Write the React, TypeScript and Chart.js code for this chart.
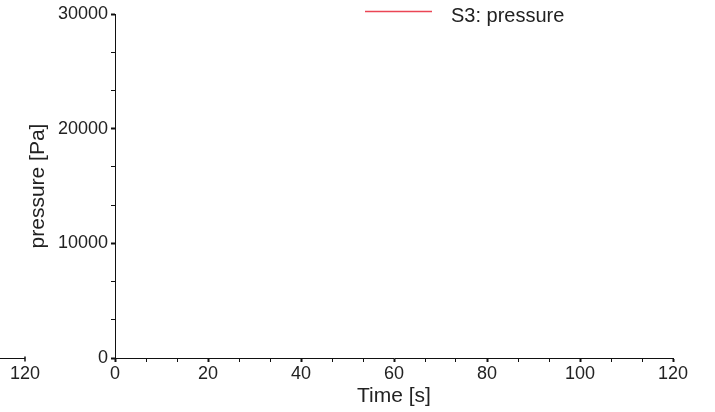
import { useEffect, useRef } from "react";
import { Chart, registerables } from "chart.js";

Chart.register(...registerables);

// ---- data ----
const timeS: number[] = [];
const pressurePa: number[] = [];
const seriesLabel = "S3: pressure";
const seriesColor = "rgb(235, 70, 85)";
const xMajorTicks = [0, 20, 40, 60, 80, 100, 120];
const yMajorTicks = [0, 10000, 20000, 30000];
const xMinorDivisions = 3;
const yMinorDivisions = 3;
const xTitle = "Time [s]";
const yTitle = "pressure [Pa]";
const neighbourTickLabel = "120";

const FONT = "'Liberation Sans', Arial, sans-serif";
const TEXT = "#222";
const AXIS = "#111";

type Tick = { value: number; major: boolean };

function withMinors(majors: number[], div: number): Tick[] {
  const out: Tick[] = [];
  for (let i = 0; i < majors.length; i++) {
    out.push({ value: majors[i], major: true });
    if (i < majors.length - 1) {
      for (let k = 1; k < div; k++) {
        out.push({ value: majors[i] + ((majors[i + 1] - majors[i]) * k) / div, major: false });
      }
    }
  }
  return out;
}

const legendPlugin = {
  id: "customLegend",
  afterDraw(chart: any) {
    const ctx = chart.ctx;
    ctx.save();
    chart.data.datasets.forEach((ds: any) => {
      ctx.strokeStyle = ds.borderColor;
      ctx.lineWidth = 1.5;
      ctx.beginPath();
      ctx.moveTo(365, 11.5);
      ctx.lineTo(432, 11.5);
      ctx.stroke();
      ctx.fillStyle = TEXT;
      ctx.font = `20px ${FONT}`;
      ctx.textBaseline = "alphabetic";
      ctx.textAlign = "left";
      ctx.fillText(ds.label, 451, 21.5);
    });
    ctx.restore();
  },
};

const neighbourPlugin = {
  id: "neighbourAxis",
  afterDraw(chart: any) {
    const ctx = chart.ctx;
    const xs = chart.scales.x;
    const y = Math.round(xs.top) + 0.5;
    ctx.save();
    ctx.strokeStyle = AXIS;
    ctx.lineWidth = 1;
    ctx.beginPath();
    ctx.moveTo(0, y);
    ctx.lineTo(25, y);
    ctx.stroke();
    ctx.lineWidth = 1.5;
    ctx.beginPath();
    ctx.moveTo(25, y - 2);
    ctx.lineTo(25, y + 3);
    ctx.stroke();
    ctx.fillStyle = TEXT;
    ctx.font = `18px ${FONT}`;
    ctx.textAlign = "center";
    ctx.textBaseline = "alphabetic";
    ctx.fillText(neighbourTickLabel, 25, y + 20);
    ctx.restore();
  },
};

export default function App() {
  const ref = useRef<HTMLCanvasElement>(null);

  useEffect(() => {
    if (!ref.current) return;
    const chart = new Chart(ref.current, {
      type: "line",
      data: {
        datasets: [
          {
            label: seriesLabel,
            data: timeS.map((t, i) => ({ x: t, y: pressurePa[i] })),
            borderColor: seriesColor,
            backgroundColor: seriesColor,
            borderWidth: 1.5,
            pointRadius: 0,
          },
        ],
      },
      options: {
        responsive: false,
        animation: false,
        layout: { padding: { left: 0, right: 42, top: 14, bottom: 0 } },
        plugins: {
          legend: { display: false },
          tooltip: { enabled: false },
        },
        scales: {
          x: {
            type: "linear",
            min: xMajorTicks[0],
            max: xMajorTicks[xMajorTicks.length - 1],
            afterBuildTicks: (s: any) => {
              s.ticks = withMinors(xMajorTicks, xMinorDivisions);
            },
            afterFit: (s: any) => {
              s.height = 54;
            },
            border: { display: true, color: AXIS, width: 1 },
            grid: {
              drawOnChartArea: false,
              drawTicks: true,
              tickLength: 4,
              tickColor: AXIS,
              tickWidth: (c: any) => (c.tick && c.tick.major ? 2 : 1),
            },
            ticks: {
              autoSkip: false,
              maxRotation: 0,
              padding: 1,
              color: TEXT,
              font: { family: FONT, size: 18 },
              callback: (v: any, i: number, ticks: any[]) => (ticks[i] && ticks[i].major ? String(v) : ""),
            },
            title: {
              display: true,
              text: xTitle,
              color: TEXT,
              font: { family: FONT, size: 21 },
              padding: { top: 0, bottom: 3 },
            },
          },
          y: {
            type: "linear",
            min: yMajorTicks[0],
            max: yMajorTicks[yMajorTicks.length - 1],
            afterBuildTicks: (s: any) => {
              s.ticks = withMinors(yMajorTicks, yMinorDivisions);
            },
            afterFit: (s: any) => {
              s.width = 115;
            },
            border: { display: true, color: AXIS, width: 1 },
            grid: {
              drawOnChartArea: false,
              drawTicks: true,
              tickLength: 4,
              tickColor: AXIS,
              tickWidth: (c: any) => (c.tick && c.tick.major ? 2 : 1),
            },
            ticks: {
              autoSkip: false,
              padding: 3,
              color: TEXT,
              font: { family: FONT, size: 18 },
              callback: (v: any, i: number, ticks: any[]) => (ticks[i] && ticks[i].major ? String(v) : ""),
            },
            title: {
              display: true,
              text: yTitle,
              color: TEXT,
              font: { family: FONT, size: 21 },
              padding: { top: 26, bottom: 0 },
            },
          },
        },
      },
      plugins: [legendPlugin, neighbourPlugin],
    });
    return () => chart.destroy();
  }, []);

  return (
    <div style={{ position: "fixed", left: 0, top: 0, width: 715, height: 412, background: "#fff" }}>
      <canvas ref={ref} width={715} height={412} style={{ display: "block", width: 715, height: 412 }} />
    </div>
  );
}
